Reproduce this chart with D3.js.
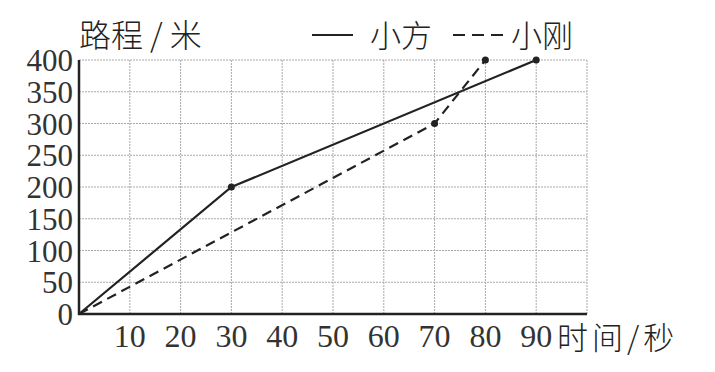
<!DOCTYPE html>
<meta charset="utf-8">
<style>
body { margin: 0; background: #fff; }
svg { display: block; }
.grid line { stroke: #a8a8a8; stroke-width: 1; stroke-dasharray: 2 1; }
.axisLine { stroke: #222; stroke-width: 2.5; }
.tick { font-family: "Liberation Serif", "DejaVu Serif", serif; fill: #333; }
.cjk { font-family: "Noto Sans CJK SC", sans-serif; fill: #222; font-weight: 300; }
.xiaofang { fill: none; stroke: #222; stroke-width: 2.2; }
.xiaogang { fill: none; stroke: #222; stroke-width: 2.2; stroke-dasharray: 10 6; }
.dot { fill: #222; }
</style>
<svg width="715" height="372"></svg>
<script src="https://cdn.jsdelivr.net/npm/d3@7"></script>
<script>
// data
var xTicks = [10, 20, 30, 40, 50, 60, 70, 80, 90];
var yTicks = [0, 50, 100, 150, 200, 250, 300, 350, 400];
var xiaofang = [[0, 0], [30, 200], [90, 400]];   // 小方, solid
var xiaogang = [[0, 0], [70, 300], [80, 400]];   // 小刚, dashed

var svg = d3.select("svg");

var x = d3.scaleLinear().domain([0, 100]).range([79, 587]);
var y = d3.scaleLinear().domain([0, 400]).range([314, 60]);

// grid
var grid = svg.append("g").attr("class", "grid");
grid.selectAll(".v").data(xTicks.concat([100])).enter().append("line")
  .attr("x1", d => x(d)).attr("x2", d => x(d))
  .attr("y1", y(0)).attr("y2", y(400));
grid.selectAll(".h").data(yTicks.slice(1)).enter().append("line")
  .attr("x1", x(0)).attr("x2", x(100))
  .attr("y1", d => y(d)).attr("y2", d => y(d));

// axes
svg.append("line").attr("class", "axisLine")
  .attr("x1", x(0)).attr("x2", x(0)).attr("y1", y(0) + 1).attr("y2", y(400));
svg.append("line").attr("class", "axisLine")
  .attr("x1", x(0) - 1).attr("x2", x(100)).attr("y1", y(0)).attr("y2", y(0));

// tick labels
svg.selectAll(".ylab").data(yTicks).enter().append("text")
  .attr("class", "tick")
  .attr("x", 73)
  .attr("y", d => y(d) + 11)
  .attr("text-anchor", "end")
  .style("font-size", "31px")
  .text(d => d);

svg.selectAll(".xlab").data(xTicks).enter().append("text")
  .attr("class", "tick")
  .attr("x", d => x(d))
  .attr("y", 347)
  .attr("text-anchor", "middle")
  .style("font-size", "32px")
  .text(d => d);

// axis titles
svg.append("text").attr("class", "cjk")
  .attr("x", 79).attr("y", 47)
  .style("font-size", "32px")
  .text("路程 / 米");

svg.append("text").attr("class", "cjk")
  .attr("x", 557).attr("y", 349)
  .style("font-size", "31px")
  .style("letter-spacing", "4px")
  .text("时间/秒");

// lines
var line = d3.line().x(d => x(d[0])).y(d => y(d[1]));

svg.append("path").datum(xiaogang).attr("class", "xiaogang").attr("d", line);
svg.append("path").datum(xiaofang).attr("class", "xiaofang").attr("d", line);

svg.selectAll(".dot").data(xiaofang.slice(1).concat(xiaogang.slice(1))).enter().append("circle")
  .attr("class", "dot")
  .attr("r", 3.5)
  .attr("cx", d => x(d[0]))
  .attr("cy", d => y(d[1]));

// legend
svg.append("line").attr("class", "xiaofang")
  .attr("x1", 312).attr("x2", 353).attr("y1", 35).attr("y2", 35);
svg.append("text").attr("class", "cjk")
  .attr("x", 370).attr("y", 47)
  .style("font-size", "31px")
  .text("小方");
svg.append("line").attr("class", "xiaogang")
  .attr("x1", 453).attr("x2", 509).attr("y1", 35).attr("y2", 35)
  .style("stroke-dasharray", "12 7");
svg.append("text").attr("class", "cjk")
  .attr("x", 511).attr("y", 47)
  .style("font-size", "31px")
  .text("小刚");
</script>
